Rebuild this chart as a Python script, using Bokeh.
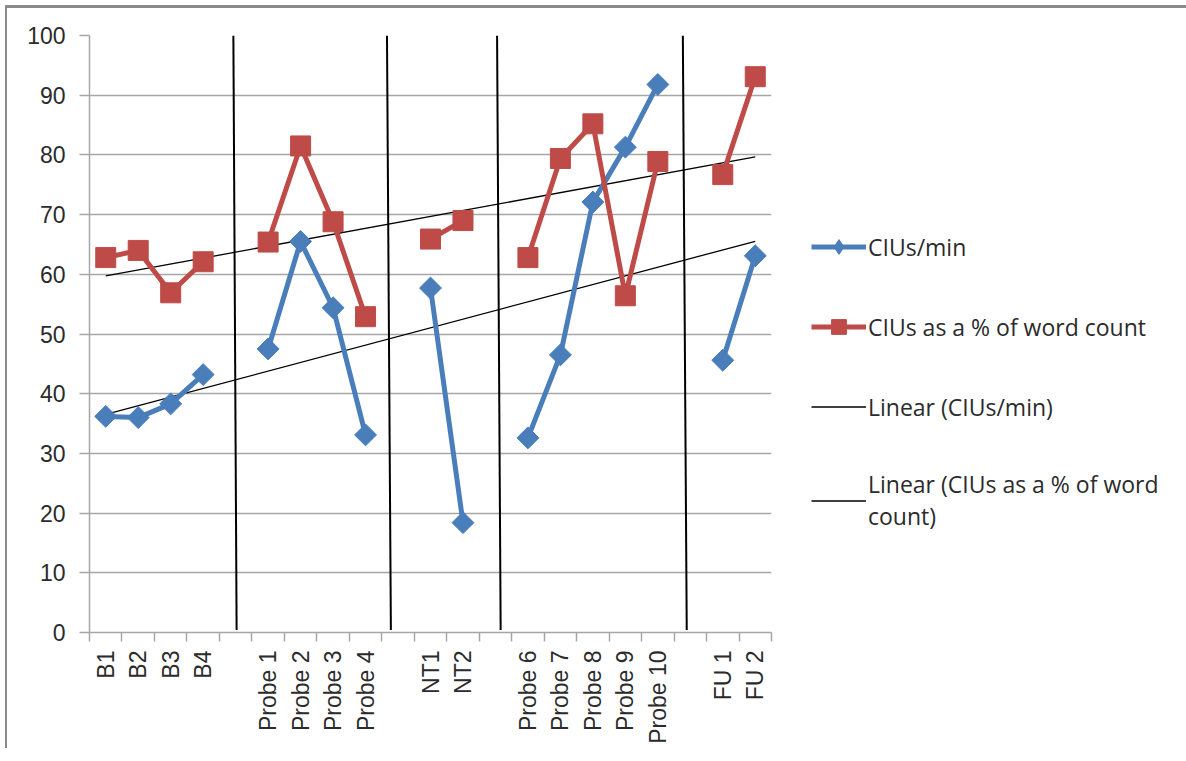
import numpy as np
from bokeh.plotting import figure
from bokeh.models import Range1d, FixedTicker, Legend, LegendItem
from bokeh.embed import file_html
from bokeh.resources import INLINE

# ---- data ----
categories = ["B1", "B2", "B3", "B4", "",
              "Probe 1", "Probe 2", "Probe 3", "Probe 4", "",
              "NT1", "NT2", "",
              "Probe 6", "Probe 7", "Probe 8", "Probe 9", "Probe 10", "",
              "FU 1", "FU 2"]
cius_per_min = [36.2, 36.0, 38.3, 43.2, None,
                47.5, 65.5, 54.4, 33.1, None,
                57.7, 18.4, None,
                32.6, 46.5, 72.1, 81.3, 91.8, None,
                45.6, 63.1]
cius_pct_words = [62.8, 64.0, 56.9, 62.1, None,
                  65.4, 81.5, 68.8, 52.9, None,
                  65.9, 69.0, None,
                  62.8, 79.4, 85.2, 56.4, 78.9, None,
                  76.7, 93.1]
y_ticks = [0, 10, 20, 30, 40, 50, 60, 70, 80, 90, 100]
# phase divider lines (category-slot units, top / bottom ends)
divider_top = [4.43, 9.16, 12.55, 18.27]
divider_bottom = [4.53, 9.28, 12.66, 18.39]

BLUE = "#4A7EBB"
RED = "#BE4B48"
GRID = "#a6a6a6"
TEXT = "#2b2b2b"

n = len(categories)
xc = np.arange(n) + 0.5
blue = np.array([np.nan if v is None else v for v in cius_per_min], dtype=float)
red = np.array([np.nan if v is None else v for v in cius_pct_words], dtype=float)

p = figure(frame_width=682, frame_height=597,
           x_range=Range1d(0, n), y_range=Range1d(0, 100),
           output_backend="svg", toolbar_location=None,
           min_border_left=82, min_border_top=27,
           min_border_right=400, min_border_bottom=116)
p.styles = {"border-top": "3px solid #8a8a8a", "border-left": "2px solid #8a8a8a",
            "margin-top": "5px", "margin-left": "5px"}
p.outline_line_color = None
p.background_fill_color = "white"
p.border_fill_color = "white"

# axes
xa = p.xaxis[0]
xa.ticker = FixedTicker(ticks=list(xc), minor_ticks=list(range(n + 1)))
xa.major_label_overrides = {float(x): c for x, c in zip(xc, categories)}
xa.major_label_orientation = np.pi / 2
xa.major_tick_line_color = None
xa.minor_tick_in = 0
xa.minor_tick_out = 9
xa.minor_tick_line_color = GRID
xa.minor_tick_line_width = 1.5
xa.axis_line_color = GRID
xa.axis_line_width = 1.5
xa.major_label_standoff = 9
xa.major_label_text_font = "Liberation Sans"
xa.major_label_text_font_size = "23px"
xa.major_label_text_color = TEXT

ya = p.yaxis[0]
ya.ticker = FixedTicker(ticks=y_ticks)
ya.major_tick_in = 0
ya.major_tick_out = 10
ya.major_tick_line_color = GRID
ya.major_tick_line_width = 1.5
ya.minor_tick_line_color = None
ya.axis_line_color = GRID
ya.axis_line_width = 1.5
ya.major_label_standoff = 14
ya.major_label_text_font = "Liberation Sans"
ya.major_label_text_font_size = "23px"
ya.major_label_text_color = TEXT

p.xgrid.visible = False
p.ygrid.ticker = FixedTicker(ticks=y_ticks)
p.ygrid.grid_line_color = GRID
p.ygrid.grid_line_width = 1.5

# dividers
p.segment(x0=divider_top, y0=[100] * 4, x1=divider_bottom, y1=[0.4] * 4,
          line_color="black", line_width=2)

# trendlines (least squares over category positions)
def trend(vals):
    m = ~np.isnan(vals)
    k, b = np.polyfit(np.arange(n)[m], vals[m], 1)
    xs = np.array([0, n - 1])
    return xs + 0.5, k * xs + b

tbx, tby = trend(blue)
trx, try_ = trend(red)
t_blue = p.line(tbx, tby, line_color="black", line_width=1.3)
t_red = p.line(trx, try_, line_color="black", line_width=1.3)

# series
l_blue = p.line(xc, blue, line_color=BLUE, line_width=5)
s_blue = p.scatter(xc, blue, marker="square", angle=np.pi / 4, size=15.5,
                   fill_color=BLUE, line_color=BLUE)
l_red = p.line(xc, red, line_color=RED, line_width=5)
s_red = p.scatter(xc, red, marker="square", size=20,
                  fill_color=RED, line_color=RED)
# legend-only diamond swatch (no visible points)
s_blue_key = p.scatter([np.nan], [np.nan], marker="diamond", size=15,
                       fill_color=BLUE, line_color=BLUE)

legend = Legend(items=[
    LegendItem(label="CIUs/min", renderers=[l_blue, s_blue_key]),
    LegendItem(label="CIUs as a % of word count", renderers=[l_red, s_red]),
    LegendItem(label="Linear (CIUs/min)", renderers=[t_blue]),
    LegendItem(label="Linear (CIUs as a % of word\ncount)", renderers=[t_red]),
], location=(40, 100))
legend.label_text_font = "Open Sans"
legend.label_text_font_size = "23px"
legend.label_text_color = TEXT
legend.glyph_width = 55
legend.glyph_height = 37
legend.label_standoff = 2
legend.spacing = 43
legend.padding = 0
legend.margin = 0
legend.border_line_color = None
legend.background_fill_alpha = 0
p.add_layout(legend, "right")

open("out.html", "w").write(file_html(p, INLINE))
